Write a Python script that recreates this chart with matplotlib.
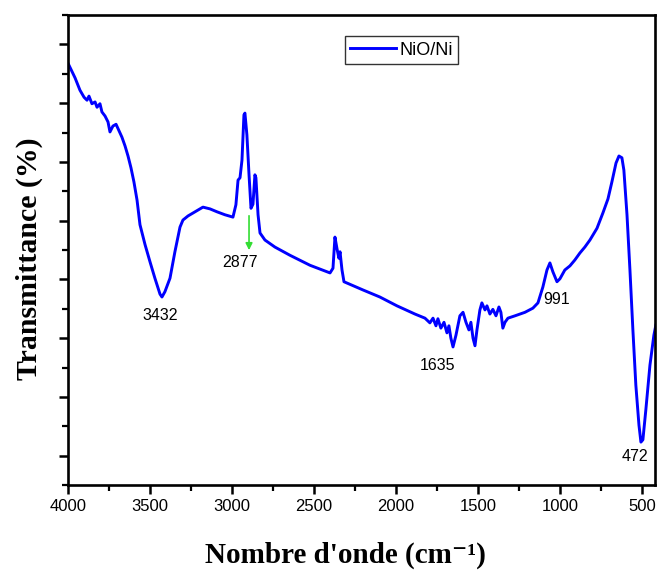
import matplotlib
matplotlib.use("Agg")
import matplotlib.pyplot as plt
from matplotlib.ticker import MultipleLocator

wavenumber = [4000, 3957, 3927, 3902, 3884, 3872, 3854, 3835, 3823, 3805, 3793, 3774, 3756, 3744,
              3726, 3707, 3689, 3671, 3652, 3634, 3616, 3598, 3579, 3561, 3530, 3500, 3470, 3439,
              3427, 3409, 3378, 3348, 3317, 3299, 3268, 3226, 3177, 3134, 3091, 3043, 2994, 2976,
              2963, 2951, 2939, 2927, 2921, 2909, 2896, 2884, 2872, 2860, 2854, 2841, 2829, 2799,
              2738, 2646, 2524, 2402, 2384, 2372, 2360, 2348, 2341, 2329, 2317, 2201, 2098, 1994,
              1884, 1823, 1793, 1774, 1756, 1744, 1726, 1707, 1689, 1677, 1665, 1652, 1634, 1610,
              1591, 1573, 1555, 1543, 1530, 1518, 1506, 1488, 1476, 1457, 1445, 1427, 1409, 1390,
              1372, 1360, 1348, 1335, 1317, 1274, 1213, 1165, 1134, 1104, 1079, 1061, 1043, 1018,
              1000, 970, 939, 909, 878, 848, 817, 774, 738, 707, 683, 658, 640, 622, 610, 591, 573,
              555, 537, 518, 506, 494, 476, 451, 427, 415]
transmittance = [71.8, 69.3, 67.2, 66.0, 65.5, 66.2, 64.9, 65.2, 64.3, 64.9, 63.5, 62.8, 61.8, 60.1,
                 61.1, 61.4, 60.3, 59.2, 57.7, 56.0, 54.0, 51.6, 48.5, 44.3, 40.9, 38.0, 35.2, 32.5,
                 32.0, 32.9, 35.2, 39.7, 43.9, 45.1, 45.8, 46.5, 47.3, 47.0, 46.5, 46.0, 45.6, 47.7,
                 51.9, 52.3, 55.3, 63.0, 63.3, 59.6, 52.8, 47.1, 47.8, 52.8, 52.3, 46.0, 42.9, 41.7,
                 40.5, 39.1, 37.4, 36.1, 36.9, 42.2, 40.3, 38.6, 39.7, 36.6, 34.6, 33.2, 32.0, 30.5,
                 29.1, 28.4, 27.6, 28.4, 27.1, 28.3, 26.7, 27.7, 25.9, 27.1, 25.0, 23.5, 25.5, 28.8,
                 29.4, 27.7, 26.4, 27.7, 25.0, 23.7, 26.4, 29.8, 31.0, 29.8, 30.5, 29.1, 29.9, 28.8,
                 30.3, 29.4, 26.7, 27.7, 28.4, 28.8, 29.4, 30.1, 31.0, 33.7, 36.6, 37.8, 36.3, 34.6,
                 35.1, 36.6, 37.3, 38.3, 39.5, 40.5, 41.7, 43.7, 46.3, 48.7, 51.6, 54.8, 56.0, 55.7,
                 53.6, 46.0, 36.6, 26.4, 17.0, 10.2, 7.3, 7.7, 12.8, 20.4, 25.5, 27.2]

series_label = "NiO/Ni"
peak_labels = ["3432", "2877", "1635", "991", "472"]
peak_label_pos = [(3439, 28.8), (2951, 37.8), (1744, 20.4), (1018, 31.5), (543, 4.8)]
xticks = [4000, 3500, 3000, 2500, 2000, 1500, 1000, 500]

fig = plt.figure(figsize=(6.57, 5.71), dpi=100)
ax = fig.add_axes([0.1035, 0.1506, 0.8935, 0.8231])

ax.plot(wavenumber, transmittance, color="#0000ff", lw=2.1, label=series_label)

ax.set_xlim(4000, 420)
ax.set_ylim(0, 80)
ax.set_xticks(xticks)
ax.set_xticklabels([str(t) for t in xticks], family="Liberation Sans", fontsize=12)
ax.xaxis.set_minor_locator(MultipleLocator(250))
ax.set_yticks([5, 15, 25, 35, 45, 55, 65, 75])
ax.set_yticks([0, 10, 20, 30, 40, 50, 60, 70, 80], minor=True)
ax.set_yticklabels([])
ax.tick_params(which="major", direction="out", length=6.5, width=1.8, top=False, right=False)
ax.tick_params(which="minor", direction="out", length=4, width=1.6, top=False, right=False)
for s in ax.spines.values():
    s.set_linewidth(1.9)

ax.set_xlabel("Nombre d'onde (cm\u207b\u00b9)", family=["Liberation Serif", "DejaVu Serif"],
              fontweight="bold", fontsize=21)
ax.xaxis.set_label_coords(0.472, -0.121)
ax.set_ylabel("Transmittance (%)", family="Liberation Serif", fontweight="bold", fontsize=21.5)
ax.yaxis.set_label_coords(-0.043, 0.481)

for txt, (px, py) in zip(peak_labels, peak_label_pos):
    ax.text(px, py, txt, ha="center", va="center", family="Liberation Sans", fontsize=11.5)

ax.annotate("", xy=(2896, 39.5), xytext=(2896, 46.3),
            arrowprops=dict(arrowstyle="-|>", color="#33dd33", lw=1.2, mutation_scale=10))

leg = ax.legend(loc="upper left", bbox_to_anchor=(0.472, 0.955), prop={"family": "Liberation Sans", "size": 13},
                frameon=True, fancybox=False, edgecolor="black", handlelength=2.5, handletextpad=0.2,
                borderpad=0.3, borderaxespad=0)
leg.get_frame().set_linewidth(1.0)

fig.savefig("out.png", dpi=100)
